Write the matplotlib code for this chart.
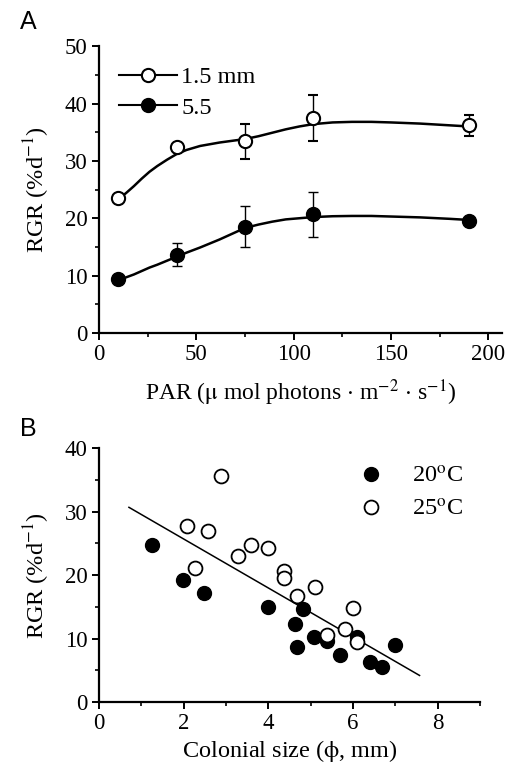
import numpy as np
import matplotlib
matplotlib.use("Agg")
import matplotlib.pyplot as plt
from matplotlib.ticker import MultipleLocator
from matplotlib.lines import Line2D

plt.rcParams['font.family'] = ['Liberation Serif', 'DejaVu Serif']
plt.rcParams['mathtext.fontset'] = 'stix'

# Panel A: RGR vs PAR
par = [10, 40, 75, 110, 190]
rgr_15 = [23.5, 32.4, 33.4, 37.5, 36.2]
err_15 = [0.5, 0.6, 3.1, 4.0, 1.8]
rgr_55 = [9.4, 13.6, 18.5, 20.7, 19.6]
err_55 = [0.4, 2.0, 3.6, 3.9, 0.4]

# fitted curves
fit_x = [10, 14, 18, 22, 26, 30, 35, 40, 45, 52, 62, 75, 82, 89, 96, 103, 110, 120, 130, 140, 150, 165, 180, 190]
fit_15 = [23.3, 24.4, 25.6, 26.9, 28.1, 29.1, 30.2, 31.2, 31.9, 32.6, 33.2, 33.8, 34.3, 34.9, 35.5, 36.0, 36.4, 36.7, 36.8, 36.8, 36.7, 36.5, 36.2, 36.0]
fit_55 = [9.2, 9.7, 10.2, 10.8, 11.4, 11.9, 12.6, 13.3, 14.0, 14.9, 16.3, 18.3, 18.9, 19.4, 19.8, 20.0, 20.2, 20.35, 20.4, 20.4, 20.3, 20.15, 19.9, 19.7]

# Panel B: RGR vs colonial size
size_20 = [1.25, 1.99, 2.48, 3.99, 4.82, 4.62, 4.68, 5.08, 5.38, 5.69, 6.10, 6.39, 6.69, 6.99]
rgr_20 = [24.8, 19.3, 17.2, 15.0, 14.6, 12.3, 8.7, 10.2, 9.6, 7.4, 10.2, 6.3, 5.5, 9.0]
size_25 = [2.89, 2.07, 2.58, 2.28, 3.28, 3.59, 3.99, 4.38, 4.38, 4.68, 5.10, 5.39, 5.80, 6.00, 6.10]
rgr_25 = [35.6, 27.7, 27.0, 21.1, 23.0, 24.7, 24.3, 20.6, 19.6, 16.7, 18.1, 10.5, 11.6, 14.9, 9.5]
line_x = [0.71, 7.57]
line_y = [30.7, 4.2]

fig = plt.figure(figsize=(5.07, 7.69), dpi=100)
axA = fig.add_axes([0.195, 0.567, 0.795, 0.373])
axB = fig.add_axes([0.195, 0.087, 0.752, 0.330])

for ax in (axA, axB):
    for s in ('top', 'right'):
        ax.spines[s].set_visible(False)
    for s in ('left', 'bottom'):
        ax.spines[s].set_linewidth(1.6)
    ax.tick_params(which='major', direction='out', length=5, width=1.4, labelsize=16.5, pad=3)
    ax.tick_params(which='minor', direction='out', length=3, width=1.2)

# --- A ---
axA.plot(fit_x, fit_15, color='black', lw=1.8)
axA.plot(fit_x, fit_55, color='black', lw=1.8)
axA.errorbar(par, rgr_15, yerr=err_15, fmt='o', mfc='white', mec='black', mew=1.5,
             ms=9.5, ecolor='black', elinewidth=1, capsize=3.5, zorder=3)
axA.errorbar(par, rgr_55, yerr=err_55, fmt='o', mfc='black', mec='black',
             ms=10, ecolor='black', elinewidth=1, capsize=3.5, zorder=3)
axA.set_xlim(0, 207)
axA.set_ylim(0, 50)
axA.xaxis.set_major_locator(MultipleLocator(50))
axA.xaxis.set_minor_locator(MultipleLocator(25))
axA.yaxis.set_major_locator(MultipleLocator(10))
axA.yaxis.set_minor_locator(MultipleLocator(5))
axA.set_ylabel(r'RGR (%d$^{-1}$)', fontsize=17.5, labelpad=9)
axA.set_xlabel(r'PAR ($\mathrm{\mu}$ mol photons $\cdot$ m$^{-2}$ $\cdot$ s$^{-1}$)', fontsize=17, labelpad=9)

hA = [Line2D([], [], color='black', lw=1.5, marker='o', mfc='white', mec='black', mew=1.5, ms=9.5),
      Line2D([], [], color='black', lw=1.5, marker='o', mfc='black', mec='black', ms=10)]
axA.legend(hA, ['1.5 mm', '5.5'], loc='upper left', bbox_to_anchor=(0.008, 0.99),
           frameon=False, fontsize=17.5, handlelength=2.4, handletextpad=0.15,
           labelspacing=0.35, borderaxespad=0.3)

# --- B ---
axB.plot(line_x, line_y, color='black', lw=1.1)
axB.plot(size_20, rgr_20, 'o', mfc='black', mec='black', ms=10, label=r'20$^\mathrm{o}$C')
axB.plot(size_25, rgr_25, 'o', mfc='white', mec='black', mew=1.3, ms=10, label=r'25$^\mathrm{o}$C')
axB.set_xlim(0, 9)
axB.set_ylim(0, 40)
axB.xaxis.set_major_locator(MultipleLocator(2))
axB.xaxis.set_minor_locator(MultipleLocator(1))
axB.yaxis.set_major_locator(MultipleLocator(10))
axB.yaxis.set_minor_locator(MultipleLocator(5))
axB.set_ylabel(r'RGR (%d$^{-1}$)', fontsize=17.5, labelpad=9)
axB.set_xlabel(r'Colonial size ($\mathrm{\phi}$, mm)', fontsize=17.5, labelpad=3)
axB.legend(loc='upper right', frameon=False, fontsize=17.5, handletextpad=0.7,
           labelspacing=0.45, borderaxespad=0.3)

fig.text(0.04, 0.971, 'A', fontsize=18, family='Liberation Sans', va='center')
fig.text(0.04, 0.442, 'B', fontsize=18, family='Liberation Sans', va='center')

fig.savefig('out.png', dpi=100)
